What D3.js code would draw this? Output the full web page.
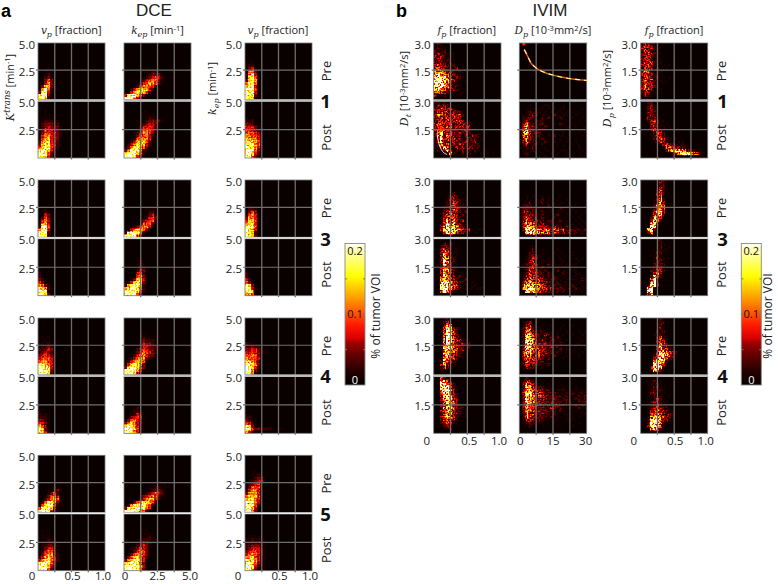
<!DOCTYPE html>
<html><head><meta charset="utf-8">
<script src="https://cdn.jsdelivr.net/npm/d3@7/dist/d3.min.js"></script>
<style>html,body{margin:0;padding:0;background:#fff}svg{display:block}text{font-family:"Open Sans",sans-serif;fill:#222}</style>
</head><body><svg id="c" width="778" height="584"></svg>
<script>
// Cell readings: digits 0-9 (share of 0.2 % of tumor VOI); rows run bottom-up, columns left-right.
// Each group lists Pre c1,c2,c3 then Post c1,c2,c3.
const dceG1 = [
"99721 89931 38941 06952 03773 01463 00353 00231 00121 00111 0001",
"9996421 4899753100 0146887520 00246877420 000125665420 0000134576531 00000124565310 000000123454210 0000000123331 00000001122 0000000111",
"9871 9883 9884 8985 7884 5885 3786 2785 2674 1563 1341 122 111 01",
"98742100 99853210 89874210 57885320 37885420 26784420 15674430 14664431 13554431 12544331 12343331 1233322 1122211 111111 1011 101 1",
"9997431 8999752 3699862100 1368875310 0246887420 0124778531 0012566641 0001355642 00012466531 00001356542 000012445421 000001234431 0000011233331 00000011221 0000001111 00000011",
"99631 99742 99853 98864 88865 87765 76664 66554 55543 55432 44431 3321 212 1"];
const dceG3 = [
"9982 9992 6994 2895 1674 0464 0253 0143 0121 001",
"9999531 2899962 014677631 000235664 00001255531 00000134552 000000124531 00000011341 0000000122 0000000111",
"9873 9862 9874 8985 6784 4775 3664 2564 1353 0221 011",
"9973 9881 8762 6532 4311 321 21 2 1 1",
"9999531 9999752 6899862 2689872 0247883 0013784 0001573 0000452 0000243 0000132 0000121 000012 000011",
"6651 8971 9942 8731 531 42 21 2 1"];
const dceG4 = [
"99972 99983 99874 87764 56654 45554 34543 23432 22343 12232 111211 11111 0101",
"9997420 9998641 3899753 1478863 0246775 0124676321 0012466433 000134654321 00012454332 000012443221 00000243321 00000132221 000001211 00000111 0000011",
"9952 99631 99742 98763 77652 65554 55653 44543211 33443211 22322111 2111",
"8742 9731 7531 5431 3321 2221 2111 11 1",
"9996410 9997520 8986420 3686430 1356431 0134541 0012431 00122 00012",
"6421 9853322221111 8731 5421 3211 221 1 1"];
const dceG5 = [
"9999411 5999731 1589952 0258873 0024675 0013564 0001352 00001231 00001211 00000111 00000011",
"9999975200 3899999641 0268899752 0013578875 000012467642 0000013456531 00000012345431 00000001123321 000000001122111 00000000011111 000000000011",
"9963 9974 99852 98864 78864 57775 36664 24664 13555 12345 012344 001233 00112 0011",
"9995210 9997420 8998530 4678642 2467642 1356632 1245531 1134421 1123321 0112221 011211 0111 0101 0101",
"9999863 9999974 7899853 3678874 13578642 01356653 00134653 00123543 000123431 000012332 00001122211 0000011121 000001111 00000111",
"9973111 9984211 8975321 8786421 6675421 4565431 3455431 2344421 2233321 1222221 1121211 01111"];
const ivimG1 = [
"0 31121011 4543211010 78643232101 899653121 99975321101 99976432101 899853132 676542321 6564332121 4543221301 3433212101 32321210 2331201 3232101 2322101 2212 1211 121",
"0 0 0 0 0 0 0 0 0 0 0 0 0 0 0 0 0 0 04",
"0 13210 2331101 3443101 3534210 344321010 3534211010 2443120101 3433211 3542101010 2433120010 3343110101 2434211 3342101 2433110 3343201 2432110 3443211 23321001",
"0000100101101 00121721021201010101 021273121312121011 113852142323312010 1263423243222220 1373424322322311 1383434231232211 2582543231313221 2483443232331 3454432323321 3443542333341 3544342343321 2343433443 3443434331 3544334342 2443423321 3343342 1323211 1212",
"0010001010010001010010 0121010100101011000101 0111201011010111010010 1121210110101010100101 1231220101101010010100 1352211021010101101001 1453201210110101001010 1563212101020110101010 1674232011011010100101 1583212210101111010010 1472321121010101101001 0362212201110210010100 0232121211010101100101 0223210212101210010010 0112320111021011001010 0012121010101101010100 0010111101010110000010 0001010111010010000000",
"0 000000000013689986521 00000000257887533211 0000000146543221 000000134322121 00001343211011 000023432101 00012342101 00012432 00024321 0003321101 000342101 00234201 00323110 00232101 00332 0023201 00231 0022"];
const ivimG3 = [
"0 00149875332101 00379996543310110 00368785421 00147574321 00146463231 00135453211 00134543121 00123434212 00122353211 00012343221 00012243211 00001333211 00001232 0000012",
"0 0089975545343232322121 0399875465354342322212 1477643332232212111010 1465532321212111010101 1354332212211201101010 1343231211021101010100 1243321201012001100010 1332221210101010101001 1232211101100201010100 0222110102010101001001 0112111211010110100100 0011010201001001000010 0010100101000100000000",
"0 00261 00792 000871 000682 0003872 0002683 00014763 00013763 00012664 00002564 00001463 00001362 00000341 00001342 00000242 000001321 000001221 000001321",
"0 0049632111 0099874321101011 00898654211011 0068754322101 00576532112 00485431211 00375421111 00365321 00364321 00274311 00385321 00375221 00364211 00354311 00343211 0023321 0002121",
"0 0099754332212121111010 0699875443322221212111 0587765432221211121010 0366544332212111101110 0245434321221101111021 0134443212121111011010 0124342212110121001100 0124332121012011011000 0123421211011010101010 0122431102110101011001 0013421111010110100100 0012431101010100001010 0012321101001010010000 0002210100010100010000 0001210100001000000000 0001110000000000000000",
"00360 00891 00792 000983 000792 000472 0002642 00013531 00022432 00012331 00002322 000013211 00001321 00011211 000012211 000011211 0000012101 00000121 0000012"];
const ivimG4 = [
"0 0011 0024211 0035321 00264321 00166442 00057543211 00067653211 000686542311 000697543212 000587432322 000599543211 000698432 00049843 00048742 000487321 000375 00024 00012",
"0 0 00322111 0243322112 0263432211 0354433212100010 0465344322121001000100 0476434332212101010010 0397544332211201010100 0397543322312101001010 0298543242211210101100 0298632321221101100110 0298522121212100100100 0277432132101010010010 0265321211101001000101 0245211101010100000000 0134110100100010010000 0123010000000000000000 0011",
"0 00026921 00038962 000198741 000068862 000036874221 000024876431 000014775432 00001365421 00001463321 000012542 000003431 000002421 00001221 00000212 00000131 00000121 00000122 00000121",
"0000 000112 0012321 00234321 00245432 00356542101 00246533211 00346642211 00256753221 00347743211 00258653 00369743 00378742 00489632 00699631 00798521 0088542 00764 0042",
"0 0 0012110100001000010000 0123211101010010100100 0143322211011001010000 0264332221201101010100 0254433322121011010011 0365433232221211011010 0375433322322211111211 0386443323233221212121 0386543332322212211222 0397543332232122112212 0387544432222212111212 0498544322221112121121 0397543322111121011111 0276432211101010101000 0375321101010100010000 0243211000100000000000 0121",
"0 00158721 00399851 00299962 00288963321 00157854321 00145644232 00134533211 001234322101 00123421 00123321 00112321 00112221 00123111 00122121 00112211 0012121 0011201 00011"];

// Thin curves visible in IVIM group 1
const curveDp = [2.2,3.2,4.2,5.2,6.7,8.2,11.1,14,17.1,20,23,26.5,30];
const curveDt = [2.65,2.42,2.18,1.94,1.76,1.62,1.45,1.33,1.24,1.17,1.11,1.06,1.02];
const arcFp = [.05,.055,.065,.075,.09,.11,.13,.16,.2];
const arcDt = [1.32,1.15,.97,.78,.62,.47,.35,.25,.18];

const dceXMax=[1,5,1], ivimXMax=[1,30,1];
const dceXTicks=[["0",0],["0.5",.5],["1.0",1]], dceMidTicks=[["0",0],["2.5",2.5],["5.0",5]], ivimMidTicks=[["0",0],["15",15],["30",30]];
const hotStops=[[0,"#000000"],[.12,"#300000"],[.22,"#680000"],[.3,"#a00000"],[.33,"#d80000"],[.42,"#ff1800"],[.5,"#ff5000"],[.62,"#ffa000"],[.77,"#ffff00"],[.88,"#ffff70"],[.97,"#ffffc0"],[1,"#ffffff"]];
const cbTicks=[0,.05,.1,.15,.2];

const color=d3.scaleLinear().domain(hotStops.map(d=>d[0])).range(hotStops.map(d=>d[1])).clamp(true);
const svg=d3.select("#c");
const defs=svg.append("defs");
// Cells are painted as grey levels, softened and grained as one image, then passed through the colour map.
const mapN=64, mapCols=d3.range(mapN+1).map(i=>d3.rgb(i===0?"#0c0000":color(i/mapN)));
const tbl=k=>mapCols.map(c=>(c[k]/255).toFixed(3)).join(" ");
function grainFilter(id,blur,gain,off,k1,k2,seed){
  const f=defs.append("filter").attr("id",id).attr("x",0).attr("y",0).attr("width","100%").attr("height","100%").attr("color-interpolation-filters","sRGB");
  f.append("feGaussianBlur").attr("in","SourceGraphic").attr("stdDeviation",blur).attr("result","b");
  f.append("feTurbulence").attr("type","fractalNoise").attr("baseFrequency",.62).attr("numOctaves",1).attr("seed",seed).attr("result","n");
  f.append("feColorMatrix").attr("in","n").attr("type","matrix")
   .attr("values",`${gain} 0 0 0 ${off} ${gain} 0 0 0 ${off} ${gain} 0 0 0 ${off} 0 0 0 0 1`).attr("result","m");
  f.append("feComposite").attr("in","b").attr("in2","m").attr("operator","arithmetic").attr("k1",k1).attr("k2",k2).attr("k3",0).attr("k4",0).attr("result","g");
  const ct=f.append("feComponentTransfer").attr("in","g");
  ct.append("feFuncR").attr("type","table").attr("tableValues",tbl("r"));
  ct.append("feFuncG").attr("type","table").attr("tableValues",tbl("g"));
  ct.append("feFuncB").attr("type","table").attr("tableValues",tbl("b"));
  ct.append("feFuncA").attr("type","linear").attr("slope",0).attr("intercept",1);
}
grainFilter("grainD",.7,1.6,-.3,1,.5,4);
grainFilter("grainI",.6,3.2,-1.1,1.3,.35,9);

const tops=[43,180,318,455.3], seps=[100.5,238,375.7,513.3], bots=[158,295.7,433.3,570.7];
const COLS=22, ROWS=19;
let clipId=0;

function panel(x0,x1,t,b,yMax,xMax,rowsStr,filt,gamma){
  const g=svg.append("g");
  const id="cp"+(clipId++);
  defs.append("clipPath").attr("id",id).append("rect").attr("x",x0).attr("y",t).attr("width",x1-x0).attr("height",b-t);
  const bx=d3.scaleBand().domain(d3.range(COLS)).range([x0,x1]);
  const by=d3.scaleBand().domain(d3.range(ROWS)).range([b,t]);
  const cells=[];
  rowsStr.split(" ").forEach((row,r)=>{ for(let c=0;c<row.length;c++){const v=+row[c]; if(v>0&&c<COLS&&r<ROWS)cells.push({c,r,v});}});
  const img=g.append("g").attr("clip-path",`url(#${id})`).append("g").attr("filter",`url(#${filt})`);
  img.append("rect").attr("x",x0).attr("y",t).attr("width",x1-x0).attr("height",b-t).attr("fill","#000");
  img.selectAll("rect.cell").data(cells).join("rect").attr("class","cell")
   .attr("x",d=>bx(d.c)).attr("y",d=>by(d.r)).attr("width",bx.bandwidth()+.2).attr("height",by.bandwidth()+.2)
   .attr("fill",d=>{const l=Math.round(255*Math.pow(d.v/9,gamma));return `rgb(${l},${l},${l})`;});
  const sx=d3.scaleLinear().domain([0,xMax]).range([x0,x1]);
  const sy=d3.scaleLinear().domain([0,yMax]).range([b,t]);
  return {g,sx,sy,id};
}
function decorate(p,x0,x1,t,b,xMax,yGridVal){
  const grid="#6e6e6e";
  [.25,.5,.75].forEach(f=>p.g.append("line").attr("x1",p.sx(xMax*f)).attr("x2",p.sx(xMax*f)).attr("y1",t).attr("y2",b+1.5).attr("stroke",grid).attr("stroke-width",1.3));
  p.g.append("line").attr("x1",x0-2).attr("x2",x1).attr("y1",p.sy(yGridVal)).attr("y2",p.sy(yGridVal)).attr("stroke",grid).attr("stroke-width",1.2);
  p.g.append("rect").attr("x",x0).attr("y",t).attr("width",x1-x0).attr("height",b-t).attr("fill","none").attr("stroke","#777").attr("stroke-width",.8);
}
function tickY(x,y,s){svg.append("text").attr("x",x).attr("y",y).attr("text-anchor","end").attr("font-size",11.5).text(s);}
function tickX(x,y,s){svg.append("text").attr("x",x).attr("y",y).attr("text-anchor","middle").attr("font-size",11.5).text(s);}

const p_store=[];
function section(xs,xMaxs,groups,nums,yLabelTop,yHalfLabel,yGrid,yMaxVal,xTickSets,xTickBaseline,xTickDx,sepStyles,preX,numX,filt,gamma){
  groups.forEach((gd,gi)=>{
    const T=tops[gi],S=seps[gi],B=bots[gi];
    xs.forEach((x,ci)=>{
      const [x0,x1]=x;
      const up=panel(x0,x1,T,S-.8,yMaxVal*.96,xMaxs[ci],gd[ci],filt,gamma);
      decorate(up,x0,x1,T,S-.8,xMaxs[ci],yGrid);
      const lo=panel(x0,x1,S+.8,B,yMaxVal,xMaxs[ci],gd[ci+3],filt,gamma);
      decorate(lo,x0,x1,S+.8,B,xMaxs[ci],yGrid);
      p_store.push({sec:filt,gi,ci,up,lo});
      svg.append("line").attr("x1",x0).attr("x2",x1).attr("y1",S).attr("y2",S).attr("stroke",sepStyles[gi][0]).attr("stroke-width",sepStyles[gi][1]);
      if(ci!==1){
        tickY(x0-3,T+5.5,yLabelTop); tickY(x0-3,S+6,yLabelTop);
        tickY(x0-3,up.sy(yGrid)+6,yHalfLabel); tickY(x0-3,lo.sy(yGrid)+5.5,yHalfLabel);
      }
      if(gi===groups.length-1){
        xTickSets[ci].forEach((tk,i)=>tickX(lo.sx(tk[1])+xTickDx[ci][i],xTickBaseline,tk[0]));
      }
    });
    svg.append("text").attr("transform",`translate(${preX},${T+28}) rotate(-90)`).attr("text-anchor","middle").attr("font-size",13).text("Pre");
    svg.append("text").attr("transform",`translate(${preX},${T+94.5}) rotate(-90)`).attr("text-anchor","middle").attr("font-size",13).text("Post");
    svg.append("text").attr("x",numX).attr("y",S+7.5).attr("text-anchor","middle").attr("font-size",18.5).attr("font-weight",700).style("fill","#111").text(nums[gi]);
  });
}
section([[38,105],[124,191],[245,312]],dceXMax,[dceG1,dceG3,dceG4,dceG5],[1,3,4,5],"5.0","2.5",2.5,5,
  [dceXTicks,dceMidTicks,dceXTicks],580,[[-6,1,-2],[1,0,-1],[-7,1,-2]],
  [["#bbbbbb",2.4],["#eeeeee",1.6],["#bbbbbb",2.4],["#eeeeee",1.6]],331,325.5,"grainD",1.3);
section([[433.7,501],[519.3,586.7],[640.7,707.7]],ivimXMax,[ivimG1,ivimG3,ivimG4],[1,3,4],"3.0","1.5",1.5,3,
  [dceXTicks,ivimMidTicks,dceXTicks],445,[[-7,2,-2],[1,0,-1],[-7,1,-2]],
  [["#aaaaaa",2.2],["#eeeeee",1.6],["#bbbbbb",2.4]],726,722.5,"grainI",1.25);

// IVIM group 1 curves
const pDp=p_store.find(p=>p.sec==="grainI"&&p.gi===0&&p.ci===1), pFp=p_store.find(p=>p.sec==="grainI"&&p.gi===0&&p.ci===0);
const lineA=d3.line().x((d,i)=>pDp.up.sx(curveDp[i])).y((d,i)=>pDp.up.sy(curveDt[i]*.96)).curve(d3.curveCatmullRom);
[["#e05a10",1.5,null],["#ffffb0",1.1,"5 4"]].forEach(s=>{
  pDp.up.g.append("path").attr("d",lineA(curveDp)).attr("fill","none").attr("stroke",s[0]).attr("stroke-width",s[1]).attr("stroke-dasharray",s[2]);
});
const lineB=d3.line().x((d,i)=>pFp.lo.sx(arcFp[i])).y((d,i)=>pFp.lo.sy(arcDt[i])).curve(d3.curveCatmullRom);
pFp.lo.g.append("path").attr("d",lineB(arcFp)).attr("fill","none").attr("stroke","#fff8e0").attr("stroke-width",1).attr("stroke-opacity",.9);

// Headings
function t(x,y,s,o={}){const e=svg.append("text").attr("x",x).attr("y",y).attr("text-anchor",o.a||"middle").attr("font-size",o.s||11).text(s);if(o.w)e.attr("font-weight",o.w);if(o.f)e.style("font-family",o.f);return e;}
t(154,16,"DCE",{s:17,f:"'Liberation Sans'"}); t(550,16,"IVIM",{s:17,f:"'Liberation Sans'"});
t(1,16.5,"a",{a:"start",s:18,w:700,f:"'Liberation Sans'"}).style("fill","#000");
t(396,16.5,"b",{a:"start",s:18,w:700,f:"'Liberation Sans'"}).style("fill","#000");

function mathTitle(sel,parts){
  parts.forEach(p=>{
    const ts=sel.append("tspan").text(p.t);
    if(p.i){ts.style("font-family","'DejaVu Serif'").style("font-style","italic").attr("font-size",p.fs||10.5);}
    if(p.dy!==undefined)ts.attr("dy",p.dy);
    if(p.sz)ts.attr("font-size",p.sz);
  });
}
const titles=[
 [71.3,[{t:"v",i:1},{t:"p",i:1,fs:8,dy:2.5},{t:" [fraction]",dy:-2.5}]],
 [157.5,[{t:"k",i:1},{t:"ep",i:1,fs:8,dy:2.5},{t:" [min",dy:-2.5},{t:"-1",sz:7.5,dy:-3.5},{t:"]",dy:3.5}]],
 [278,[{t:"v",i:1},{t:"p",i:1,fs:8,dy:2.5},{t:" [fraction]",dy:-2.5}]],
 [466.8,[{t:"f",i:1},{t:"p",i:1,fs:8,dy:2.5},{t:" [fraction]",dy:-2.5}]],
 [553,[{t:"D",i:1},{t:"p",i:1,fs:8,dy:2.5},{t:" [10",dy:-2.5},{t:"-3",sz:7.5,dy:-3.5},{t:"mm",dy:3.5},{t:"2",sz:7.5,dy:-3.5},{t:"/s]",dy:3.5}]],
 [674,[{t:"f",i:1},{t:"p",i:1,fs:8,dy:2.5},{t:" [fraction]",dy:-2.5}]]
];
titles.forEach(d=>mathTitle(t(d[0],34,"",{s:11}),d[1]));
function rotTitle(x,y,parts,fs){
  const e=svg.append("text").attr("font-size",fs);
  mathTitle(e,parts);
  const len=e.node().getComputedTextLength();
  e.attr("transform",`translate(${x},${y+len/2}) rotate(-90)`);
}
rotTitle(13.5,87.5,[{t:"K",i:1,fs:11.5},{t:"trans",i:1,fs:8.5,dy:-3.5},{t:" [min",dy:3.5},{t:"-1",sz:7.5,dy:-3.5},{t:"]",dy:3.5}],11);
rotTitle(216,88.5,[{t:"k",i:1,fs:11},{t:"ep",i:1,fs:8,dy:2.5},{t:" [min",dy:-2.5},{t:"-1",sz:7.5,dy:-3.5},{t:"]",dy:3.5}],11);
const dUnit=[{t:" [10",dy:-2.5},{t:"-3",sz:7.5,dy:-3.5},{t:"mm",dy:3.5},{t:"2",sz:7.5,dy:-3.5},{t:"/s]",dy:3.5}];
rotTitle(408,88.5,[{t:"D",i:1,fs:11},{t:"t",i:1,fs:8,dy:2.5}].concat(dUnit),11);
rotTitle(611,88.5,[{t:"D",i:1,fs:11},{t:"p",i:1,fs:8,dy:2.5}].concat(dUnit),11);

// Colour bars
const grad=defs.append("linearGradient").attr("id","hot").attr("x1",0).attr("x2",0).attr("y1",1).attr("y2",0);
hotStops.forEach(s=>grad.append("stop").attr("offset",s[0]).attr("stop-color",s[1]));
[[345,376],[741.3,768]].forEach(([x,labX])=>{
  const w=20, sc=d3.scaleLinear().domain([0,.2]).range([385,243.5]);
  svg.append("rect").attr("x",x).attr("y",sc(.2)).attr("width",w).attr("height",sc(0)-sc(.2)).attr("fill","url(#hot)").attr("stroke","#888").attr("stroke-width",.9);
  cbTicks.slice(1,4).forEach(v=>{[[x,x+2],[x+w-2,x+w]].forEach(a=>svg.append("line").attr("x1",a[0]).attr("x2",a[1]).attr("y1",sc(v)).attr("y2",sc(v)).attr("stroke","#777"));});
  svg.append("text").attr("x",x+w/2).attr("y",sc(.2)+11.5).attr("text-anchor","middle").attr("font-size",11).style("fill","#111").text("0.2");
  svg.append("text").attr("x",x+w/2).attr("y",sc(.1)+4).attr("text-anchor","middle").attr("font-size",11).style("fill","#111").text("0.1");
  svg.append("text").attr("x",x+w/2).attr("y",sc(0)-1.5).attr("text-anchor","middle").attr("font-size",11).style("fill","#fff").text("0");
  svg.append("text").attr("transform",`translate(${labX+4},316) rotate(-90)`).attr("text-anchor","middle").attr("font-size",12).text("% of tumor VOI");
});
</script></body></html>
